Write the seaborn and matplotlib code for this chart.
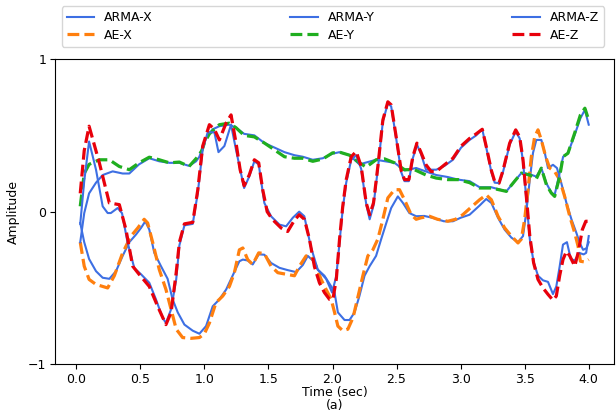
import matplotlib
matplotlib.use("Agg")
import matplotlib.pyplot as plt
import seaborn as sns

# time stamps (sec) and amplitudes, one pair per series
T_ARMA_X = [0.031, 0.062, 0.10, 0.154, 0.206, 0.258, 0.31, 0.362, 0.414, 0.466, 0.505, 0.539,
            0.57, 0.609, 0.661, 0.713, 0.752, 0.792, 0.844, 0.909, 0.961, 1.013, 1.065, 1.117,
            1.17, 1.22, 1.273, 1.30, 1.338, 1.377, 1.424, 1.468, 1.52, 1.586, 1.65, 1.716,
            1.768, 1.807, 1.846, 1.885, 1.937, 1.99, 2.016, 2.042, 2.094, 2.133, 2.172, 2.21,
            2.25, 2.29, 2.34, 2.38, 2.42, 2.458, 2.51, 2.55, 2.60, 2.653, 2.716, 2.78, 2.87,
            2.94, 3.0, 3.07, 3.148, 3.2, 3.24, 3.292, 3.344, 3.396, 3.448, 3.487, 3.513, 3.54,
            3.565, 3.591, 3.63, 3.656, 3.682, 3.721, 3.752, 3.786, 3.826, 3.865, 3.904, 3.93,
            3.956, 3.982, 4.0]
ARMA_X = [-0.074, -0.2, -0.31, -0.39, -0.433, -0.44, -0.39, -0.29, -0.2, -0.15, -0.107, -0.063,
          -0.118, -0.27, -0.357, -0.44, -0.575, -0.66, -0.74, -0.78, -0.8, -0.75, -0.62, -0.575,
          -0.51, -0.42, -0.325, -0.314, -0.32, -0.346, -0.28, -0.282, -0.336, -0.368, -0.383, -0.396,
          -0.35, -0.29, -0.32, -0.38, -0.42, -0.49, -0.53, -0.66, -0.71, -0.71, -0.66, -0.553,
          -0.42, -0.357, -0.29, -0.18, -0.074, 0.024, 0.1, 0.057, -0.009, -0.03, -0.028, -0.04, -0.063,
          -0.063, -0.04, -0.02, 0.04, 0.083, 0.057, -0.04, -0.118, -0.17, -0.2, -0.16, 0.0, 0.21,
          0.385, 0.47, 0.47, 0.39, 0.286, 0.307, 0.286, 0.187, 0.057, -0.05, -0.14, -0.205,
          -0.25, -0.24, -0.2]

T_AE_X = [0.031, 0.062, 0.10, 0.154, 0.206, 0.245, 0.297, 0.362, 0.427, 0.48, 0.53, 0.557,
          0.596, 0.648, 0.70, 0.74, 0.78, 0.83, 0.896, 0.961, 1.0, 1.039, 1.09, 1.143, 1.195,
          1.234, 1.273, 1.30, 1.338, 1.377, 1.424, 1.468, 1.52, 1.573, 1.638, 1.703, 1.742,
          1.794, 1.833, 1.872, 1.911, 1.95, 1.99, 2.016, 2.042, 2.08, 2.12, 2.16, 2.2, 2.237,
          2.276, 2.315, 2.354, 2.393, 2.432, 2.484, 2.523, 2.562, 2.614, 2.653, 2.692, 2.757,
          2.82, 2.9, 2.96, 3.017, 3.07, 3.148, 3.2, 3.24, 3.292, 3.344, 3.396, 3.448, 3.474,
          3.50, 3.526, 3.552, 3.578, 3.604, 3.63, 3.664, 3.695, 3.734, 3.773, 3.812, 3.852,
          3.891, 3.917, 3.935, 3.97, 4.0]
AE_X = [-0.2, -0.357, -0.444, -0.477, -0.49, -0.5, -0.42, -0.27, -0.16, -0.107, -0.05, -0.074,
        -0.2, -0.38, -0.51, -0.64, -0.77, -0.825, -0.83, -0.825, -0.8, -0.73, -0.597, -0.553, -0.49,
        -0.4, -0.25, -0.238, -0.314, -0.346, -0.27, -0.274, -0.357, -0.4, -0.41, -0.42, -0.357,
        -0.29, -0.29, -0.357, -0.444, -0.51, -0.575, -0.66, -0.75, -0.78, -0.77, -0.695, -0.553, -0.42,
        -0.29, -0.25, -0.18, -0.05, 0.09, 0.144, 0.144, 0.078, -0.02, -0.05, -0.04, -0.03,
        -0.05, -0.063, -0.05, -0.02, 0.02, 0.078, 0.11, 0.078, -0.03, -0.107, -0.16, -0.205, -0.18,
        -0.05, 0.144, 0.36, 0.49, 0.536, 0.47, 0.36, 0.286, 0.263, 0.21, 0.1, -0.03,
        -0.14, -0.227, -0.325, -0.33, -0.314]

T_ARMA_Y = [0.031, 0.062, 0.10, 0.154, 0.206, 0.284, 0.362, 0.414, 0.49, 0.57, 0.648, 0.727,
            0.805, 0.88, 0.935, 0.961, 0.985, 1.013, 1.065, 1.117, 1.195, 1.247, 1.31, 1.39,
            1.468, 1.547, 1.625, 1.703, 1.768, 1.846, 1.924, 2.0, 2.055, 2.133, 2.21, 2.34,
            2.484, 2.562, 2.653, 2.73, 2.81, 2.9, 2.98, 3.07, 3.148, 3.24, 3.357, 3.422, 3.474,
            3.54, 3.591, 3.63, 3.67, 3.708, 3.734, 3.773, 3.80, 3.838, 3.89, 3.935, 3.97, 4.0]
ARMA_Y = [-0.2, -0.01, 0.12, 0.19, 0.24, 0.264, 0.25, 0.25, 0.31, 0.35, 0.33, 0.32,
          0.32, 0.3, 0.33, 0.36, 0.42, 0.48, 0.54, 0.56, 0.57, 0.55, 0.51, 0.5,
          0.45, 0.42, 0.39, 0.37, 0.36, 0.34, 0.35, 0.38, 0.39, 0.37, 0.31, 0.34,
          0.32, 0.27, 0.286, 0.263, 0.24, 0.227, 0.21, 0.2, 0.16, 0.16, 0.133, 0.2, 0.253,
          0.245, 0.23, 0.285, 0.185, 0.126, 0.11, 0.253, 0.36, 0.383, 0.503, 0.612, 0.667, 0.57]

T_AE_Y = [0.031, 0.062, 0.10, 0.18, 0.258, 0.336, 0.414, 0.49, 0.57, 0.648, 0.727, 0.805,
          0.88, 0.948, 0.98, 1.0, 1.039, 1.117, 1.195, 1.247, 1.31, 1.39, 1.468, 1.547, 1.625,
          1.703, 1.768, 1.846, 1.924, 2.0, 2.055, 2.133, 2.21, 2.263, 2.34, 2.406, 2.484, 2.562,
          2.64, 2.73, 2.81, 2.9, 2.98, 3.07, 3.148, 3.24, 3.357, 3.422, 3.474, 3.54, 3.591,
          3.63, 3.67, 3.708, 3.734, 3.773, 3.80, 3.838, 3.89, 3.935, 3.97, 4.0]
AE_Y = [0.035, 0.25, 0.31, 0.34, 0.34, 0.296, 0.275, 0.32, 0.357, 0.34, 0.32, 0.325,
        0.296, 0.36, 0.4, 0.45, 0.51, 0.57, 0.58, 0.55, 0.5, 0.49, 0.45, 0.405, 0.36,
        0.35, 0.35, 0.33, 0.345, 0.385, 0.39, 0.37, 0.32, 0.292, 0.34, 0.346, 0.32, 0.275,
        0.275, 0.24, 0.22, 0.21, 0.21, 0.19, 0.155, 0.155, 0.133, 0.2, 0.253, 0.24, 0.215,
        0.285, 0.176, 0.122, 0.1, 0.23, 0.36, 0.383, 0.514, 0.634, 0.678, 0.6]

T_ARMA_Z = [0.031, 0.062, 0.10, 0.154, 0.206, 0.245, 0.27, 0.323, 0.357, 0.40, 0.453, 0.505,
            0.57, 0.622, 0.674, 0.70, 0.74, 0.78, 0.805, 0.844, 0.909, 0.948, 0.987, 1.026,
            1.078, 1.11, 1.156, 1.208, 1.247, 1.31, 1.35, 1.39, 1.424, 1.468, 1.52, 1.586,
            1.638, 1.69, 1.74, 1.78, 1.83, 1.885, 1.95, 1.997, 2.03, 2.055, 2.08, 2.107, 2.146,
            2.185, 2.224, 2.263, 2.29, 2.32, 2.354, 2.393, 2.432, 2.458, 2.497, 2.536, 2.562,
            2.596, 2.627, 2.659, 2.69, 2.73, 2.81, 2.874, 2.94, 3.004, 3.07, 3.122, 3.169, 3.2,
            3.24, 3.266, 3.3, 3.331, 3.383, 3.43, 3.461, 3.487, 3.513, 3.54, 3.57, 3.604, 3.643,
            3.682, 3.721, 3.747, 3.773, 3.799, 3.83, 3.86, 3.891, 3.925, 3.96, 3.98, 4.0]
ARMA_Z = [-0.08, 0.2, 0.46, 0.275, 0.035, -0.009, -0.009, 0.024, -0.01, -0.2, -0.37, -0.41,
          -0.466, -0.575, -0.695, -0.73, -0.64, -0.444, -0.22, -0.09, -0.08, 0.12, 0.41, 0.52,
          0.52, 0.39, 0.43, 0.57, 0.405, 0.155, 0.23, 0.33, 0.31, 0.057, -0.03, -0.085,
          -0.096, -0.04, 0.0, -0.03, -0.227, -0.38, -0.44, -0.53, -0.42, -0.2, 0.02, 0.19, 0.34,
          0.37, 0.28, 0.05, -0.05, 0.04, 0.28, 0.59, 0.71, 0.69, 0.48, 0.26, 0.2,
          0.2, 0.35, 0.44, 0.38, 0.275, 0.275, 0.3, 0.34, 0.42, 0.47, 0.5, 0.54, 0.42,
          0.26, 0.19, 0.187, 0.26, 0.44, 0.525, 0.48, 0.33, 0.08, -0.18, -0.33, -0.42, -0.45,
          -0.46, -0.54, -0.49, -0.36, -0.216, -0.2, -0.31, -0.32, -0.27, -0.28, -0.27, -0.16]

T_AE_Z = [0.031, 0.062, 0.10, 0.18, 0.258, 0.336, 0.388, 0.44, 0.49, 0.57, 0.635, 0.70, 0.74,
          0.78, 0.805, 0.844, 0.909, 0.948, 0.987, 1.039, 1.078, 1.117, 1.169, 1.208, 1.247,
          1.279, 1.31, 1.35, 1.39, 1.424, 1.455, 1.49, 1.53, 1.599, 1.65, 1.70, 1.74, 1.781,
          1.82, 1.859, 1.898, 1.937, 1.977, 2.003, 2.03, 2.055, 2.08, 2.107, 2.146, 2.185,
          2.224, 2.263, 2.29, 2.32, 2.354, 2.393, 2.432, 2.458, 2.497, 2.536, 2.562, 2.596,
          2.627, 2.659, 2.69, 2.73, 2.77, 2.81, 2.874, 2.94, 3.004, 3.07, 3.122, 3.169, 3.2,
          3.24, 3.266, 3.3, 3.331, 3.383, 3.43, 3.461, 3.487, 3.513, 3.54, 3.57, 3.604, 3.643,
          3.682, 3.721, 3.747, 3.773, 3.799, 3.826, 3.852, 3.891, 3.917, 3.95, 3.977, 4.0]
AE_Z = [0.12, 0.4, 0.56, 0.32, 0.057, 0.046, -0.118, -0.357, -0.41, -0.49, -0.62, -0.74, -0.66,
        -0.40, -0.20, -0.08, -0.07, 0.14, 0.43, 0.57, 0.54, 0.47, 0.58, 0.634, 0.45,
        0.275, 0.17, 0.24, 0.34, 0.32, 0.145, 0.0, -0.05, -0.107, -0.13, -0.06, -0.02, -0.05,
        -0.18, -0.36, -0.466, -0.53, -0.575, -0.575, -0.44, -0.18, 0.035, 0.209, 0.36, 0.394,
        0.296, 0.057, -0.02, 0.057, 0.296, 0.6, 0.72, 0.70, 0.49, 0.27, 0.21, 0.21,
        0.36, 0.449, 0.39, 0.307, 0.263, 0.263, 0.307, 0.35, 0.43, 0.48, 0.51, 0.54, 0.427,
        0.27, 0.198, 0.187, 0.27, 0.449, 0.536, 0.49, 0.34, 0.1, -0.16, -0.336, -0.444, -0.5,
        -0.542, -0.58, -0.553, -0.42, -0.314, -0.26, -0.29, -0.357, -0.27, -0.118, -0.063, -0.063]

BLUE = "#3d6fe3"
SERIES = [
    ("ARMA-X", T_ARMA_X, ARMA_X, BLUE, "-"),
    ("AE-X", T_AE_X, AE_X, "#ff7f0e", "--"),
    ("ARMA-Y", T_ARMA_Y, ARMA_Y, BLUE, "-"),
    ("AE-Y", T_AE_Y, AE_Y, "#1fae1f", "--"),
    ("ARMA-Z", T_ARMA_Z, ARMA_Z, BLUE, "-"),
    ("AE-Z", T_AE_Z, AE_Z, "#e8000b", "--"),
]


def main() -> None:
    plt.rcParams["font.size"] = 9
    fig = plt.figure(figsize=(6.16, 4.13), dpi=100)
    ax = fig.add_axes([0.089, 0.118, 0.908, 0.739])

    for label, t, v, color, ls in SERIES:
        sns.lineplot(
            x=t,
            y=v,
            ax=ax,
            color=color,
            linestyle=ls,
            linewidth=1.5 if ls == "-" else 2.3,
            label=label,
            sort=False,
            estimator=None,
        )

    ax.set_ylim(-1, 1)
    ax.set_yticks([-1, 0, 1])
    ax.set_xticks([0.0, 0.5, 1.0, 1.5, 2.0, 2.5, 3.0, 3.5, 4.0])
    ax.tick_params(labelsize=9, pad=2.5)
    ax.set_xlabel("Time (sec)\n(a)", labelpad=0, linespacing=1.0)
    ax.set_ylabel("Amplitude", labelpad=6)

    ax.legend(
        loc="lower left",
        bbox_to_anchor=(0.012, 1.04, 0.97, 0.12),
        ncol=3,
        mode="expand",
        borderaxespad=0.0,
        handlelength=2.2,
        labelspacing=0.35,
        fontsize=9,
    )

    fig.savefig("out.png", dpi=100)
    plt.close(fig)


if __name__ == "__main__":
    main()
